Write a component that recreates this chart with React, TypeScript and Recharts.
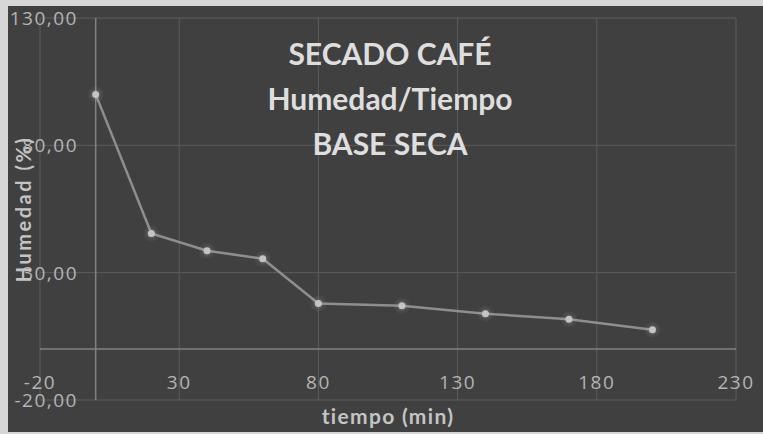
import React from 'react';
import { LineChart, Line, XAxis, YAxis, CartesianGrid, ReferenceLine } from 'recharts';

// humedad base seca vs tiempo de secado
const tiempo = [0, 20, 40, 60, 80, 110, 140, 170, 200];
const humedad = [100, 45.4, 38.6, 35.5, 17.9, 17.0, 13.9, 11.7, 7.6];
const xTicks = [-20, 30, 80, 130, 180, 230];
const yTicks = [-20, 30, 80, 130];
const titleLines = ['SECADO CAFÉ', 'Humedad/Tiempo', 'BASE SECA'];

const data = tiempo.map((t, i) => ({ tiempo: t, humedad: humedad[i] }));

const fmt = (v: number) => v.toFixed(2).replace('.', ',');

const YTick = (props: any) => {
  const { y, payload } = props;
  return (
    <text x={70} y={y} textAnchor="end" dominantBaseline="central" fill="#b4b4b4"
      fontSize={19} fontFamily="Open Sans" letterSpacing={1.5}>
      {fmt(payload.value)}
    </text>
  );
};

const XTick = (props: any) => {
  const { x, y, payload } = props;
  return (
    <text x={x} y={y - 26} textAnchor="middle" dominantBaseline="central" fill="#b4b4b4"
      fontSize={19} fontFamily="Open Sans" letterSpacing={1.5}>
      {payload.value}
    </text>
  );
};

const GlowDot = (props: any) => {
  const { cx, cy } = props;
  return (
    <g>
      <circle cx={cx} cy={cy} r={8} fill="#c8c8c8" opacity={0.06} />
      <circle cx={cx} cy={cy} r={5.5} fill="#c8c8c8" opacity={0.1} />
      <circle cx={cx} cy={cy} r={3.5} fill="#c4c4c4" />
    </g>
  );
};

export default function App() {
  return (
    <div style={{ position: 'absolute', left: 0, top: 0, width: 763, height: 434, background: '#d6d6d6' }}>
      <div style={{ position: 'absolute', left: 8, top: 6, width: 755, height: 426, background: '#404040' }}>
        <LineChart width={755} height={426} data={data} margin={{ top: 12, right: 27, bottom: 0, left: 0 }}>
          <CartesianGrid stroke="#5c5c5c" strokeWidth={1} />
          <XAxis
            dataKey="tiempo"
            type="number"
            domain={[-20, 230]}
            ticks={xTicks}
            axisLine={false}
            tickLine={false}
            height={32}
            tick={<XTick />}
            label={{ value: 'tiempo (min)', position: 'insideBottom', offset: 8, fill: '#c4c4c4', fontSize: 21, fontWeight: 700, fontFamily: 'Lato', letterSpacing: 1.3 }}
          />
          <YAxis
            type="number"
            domain={[-20, 130]}
            ticks={yTicks}
            axisLine={false}
            tickLine={false}
            width={32}
            tick={<YTick />}
            label={{ value: 'Humedad (%)', angle: -90, position: 'center', fill: '#c4c4c4', fontSize: 20, fontWeight: 700, fontFamily: 'Lato', letterSpacing: 2.5 }}
          />
          <ReferenceLine x={0} stroke="#828282" strokeWidth={1.5} />
          <ReferenceLine y={0} stroke="#828282" strokeWidth={1.5} />
          <Line
            dataKey="humedad"
            stroke="#8e8e8e"
            strokeWidth={2.5}
            dot={<GlowDot />}
            activeDot={false}
            isAnimationActive={false}
          />
        </LineChart>
        <div style={{
          position: 'absolute', left: 382 - 200, top: 25, width: 400, textAlign: 'center',
          fontFamily: 'Lato', fontWeight: 700, fontSize: 30, lineHeight: '45px', color: '#dedede',
        }}>
          {titleLines.map((l) => <div key={l}>{l}</div>)}
        </div>
      </div>
    </div>
  );
}
